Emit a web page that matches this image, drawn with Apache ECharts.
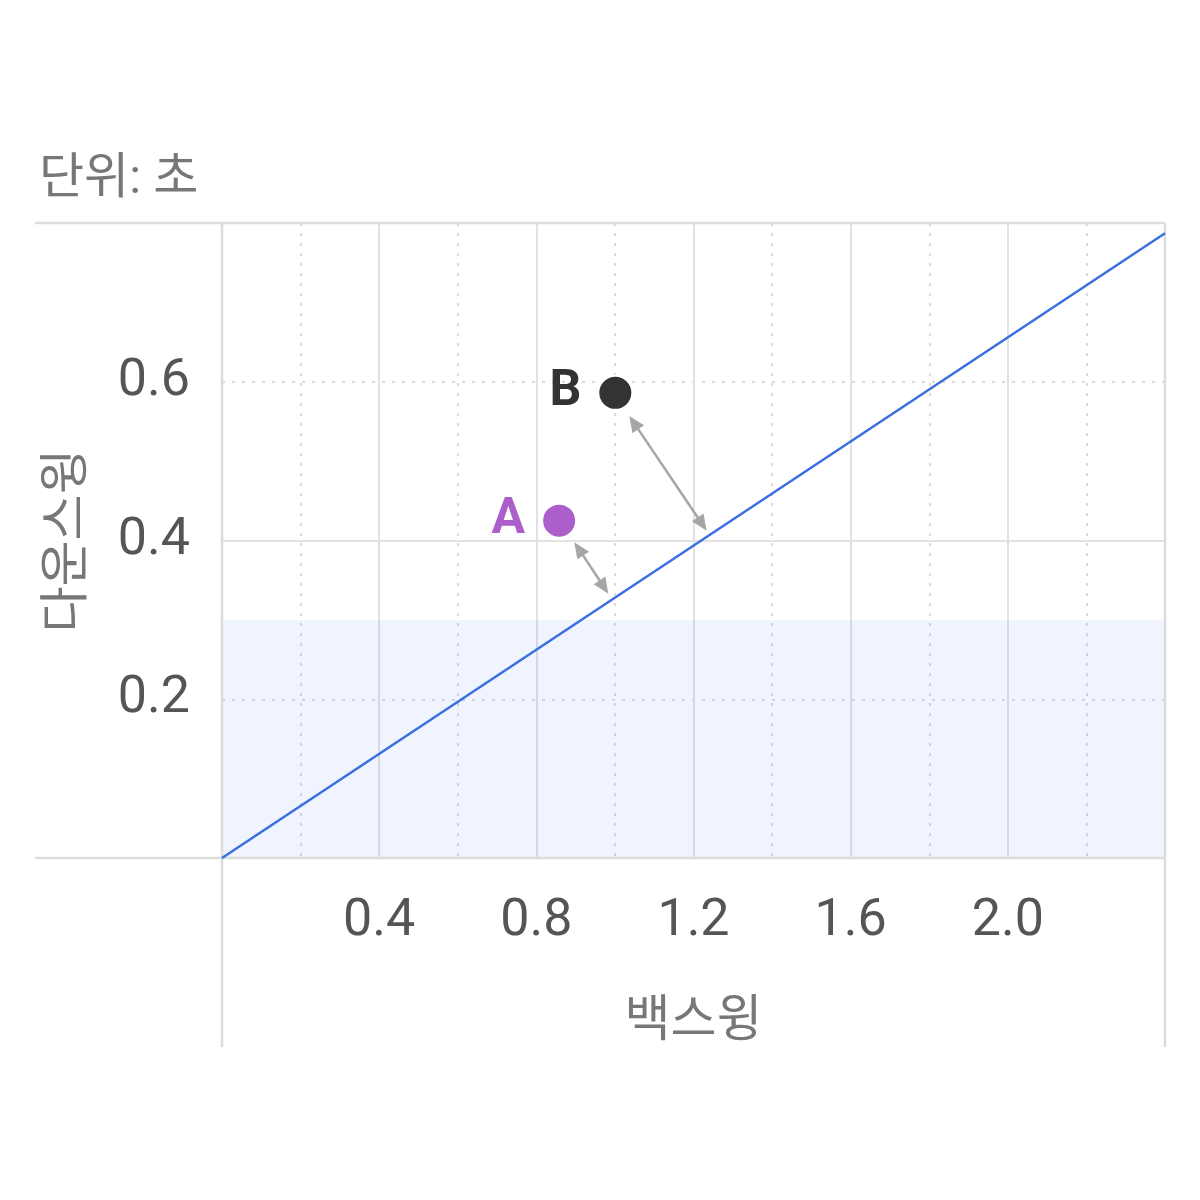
<!DOCTYPE html>
<html>
<head>
<meta charset="utf-8">
<script src="https://cdn.jsdelivr.net/npm/echarts@6/dist/echarts.min.js"></script>
<style>
html,body{margin:0;padding:0;background:#fff;}
#chart{width:1200px;height:1200px;}
</style>
</head>
<body>
<div id="chart"></div>
<script>
// ---- data ----
const pointNames = ['A', 'B'];
const backswing = [0.858, 1.001];
const downswing = [0.425, 0.586];
const pointColors = ['#AC5FCB', '#333333'];
const fitLineX = [0, 2.4];
const fitLineY = [0, 0.787];
const bandRange = [0, 0.3];
const arrowStarts = [[0.908, 0.3895], [1.048, 0.5485]];
const arrowEnds = [[0.972, 0.3414], [1.222, 0.4207]];
const xRange = [0, 2.4];
const yRange = [0, 0.8];
const xHiddenLabels = [0, 2.4];
const yHiddenLabels = [0, 0.8];
const titleText = '단위: 초';
const xName = '백스윙';
const yName = '다운스윙';

// ---- layout ----
const GL = 222, GT = 223, GR = 1165, GB = 858;
const FONT = "Roboto, 'Noto Sans CJK KR', sans-serif";
const FRAME = '#DCDCDC';

const chart = echarts.init(document.getElementById('chart'));

const fitData = fitLineX.map((x, i) => [x, fitLineY[i]]);
const pts = pointNames.map((n, i) => ({
  name: n,
  value: [backswing[i], downswing[i]],
  itemStyle: { color: pointColors[i], borderColor: '#fff', borderWidth: 2, opacity: 1 },
  label: { color: pointColors[i] }
}));
const arrows = arrowStarts.map((s, i) => [{ coord: s }, { coord: arrowEnds[i] }]);

function hideFmt(hidden) {
  return v => hidden.some(h => Math.abs(h - v) < 1e-9) ? '' : v.toFixed(1);
}

const option = {
  backgroundColor: '#fff',
  animation: false,
  textStyle: { fontFamily: FONT },
  title: {
    text: titleText, left: 34, top: 151,
    textStyle: { fontFamily: FONT, fontSize: 49, fontWeight: 'normal', color: '#777' }
  },
  grid: { left: GL, top: GT, width: GR - GL, height: GB - GT, containLabel: false },
  xAxis: {
    type: 'value', min: xRange[0], max: xRange[1], interval: 0.4,
    name: xName, nameLocation: 'middle', nameGap: 140,
    nameTextStyle: { fontFamily: FONT, fontSize: 50, color: '#777' },
    axisLine: { show: false }, axisTick: { show: false },
    axisLabel: { fontFamily: FONT, fontSize: 52, color: '#555', margin: 38, formatter: hideFmt(xHiddenLabels) },
    splitLine: { show: true, lineStyle: { color: '#E2E2E2', width: 2 } },
    minorTick: { show: false, splitNumber: 2 },
    minorSplitLine: { show: true, lineStyle: { color: '#DADADA', width: 2, type: [3, 7] } }
  },
  yAxis: [{
    type: 'value', min: yRange[0], max: yRange[1], interval: 0.4,
    name: yName, nameLocation: 'middle', nameGap: 128, nameRotate: 90,
    nameTextStyle: { fontFamily: FONT, fontSize: 50, color: '#777' },
    axisLine: { show: false }, axisTick: { show: false },
    axisLabel: { show: false },
    splitLine: { show: true, lineStyle: { color: '#E2E2E2', width: 2 } },
    minorTick: { show: false, splitNumber: 2 },
    minorSplitLine: { show: true, lineStyle: { color: '#DADADA', width: 2, type: [3, 7] } }
  }, {
    type: 'value', min: yRange[0], max: yRange[1], interval: 0.2, position: 'left',
    axisLine: { show: false }, axisTick: { show: false },
    axisLabel: { fontFamily: FONT, fontSize: 52, color: '#555', margin: 32, formatter: hideFmt(yHiddenLabels) },
    splitLine: { show: false }
  }],
  graphic: [
    { type: 'line', z: 10, shape: { x1: 35, y1: GT, x2: GR, y2: GT }, style: { stroke: FRAME, lineWidth: 2.5 } },
    { type: 'line', z: 10, shape: { x1: 35, y1: GB, x2: GR, y2: GB }, style: { stroke: FRAME, lineWidth: 2.5 } },
    { type: 'line', z: 10, shape: { x1: GL, y1: GT, x2: GL, y2: 1047 }, style: { stroke: FRAME, lineWidth: 2.5 } },
    { type: 'line', z: 10, shape: { x1: GR, y1: GT, x2: GR, y2: 1047 }, style: { stroke: FRAME, lineWidth: 2.5 } }
  ],
  series: [{
    type: 'line', data: fitData, showSymbol: false, silent: true, z: 12,
    lineStyle: { color: '#3A6EE3', width: 2.5 },
    markArea: {
      silent: true,
      itemStyle: { color: 'rgba(80,130,240,0.085)' },
      data: [[{ yAxis: bandRange[0] }, { yAxis: bandRange[1] }]],
      z: 1
    },
    markLine: {
      silent: true, symbol: ['triangle', 'triangle'], symbolSize: [14, 16],
      label: { show: false },
      lineStyle: { color: '#A6A6A6', width: 2.5, type: 'solid' },
      emphasis: { disabled: true },
      data: arrows
    }
  }, {
    type: 'scatter', data: pts, symbolSize: 34, z: 13,
    itemStyle: { opacity: 1 },
    label: { show: true, position: 'left', distance: 16, formatter: '{b}', fontFamily: FONT, fontSize: 50, fontWeight: 'bold' }
  }]
};
chart.setOption(option);
</script>
</body>
</html>
